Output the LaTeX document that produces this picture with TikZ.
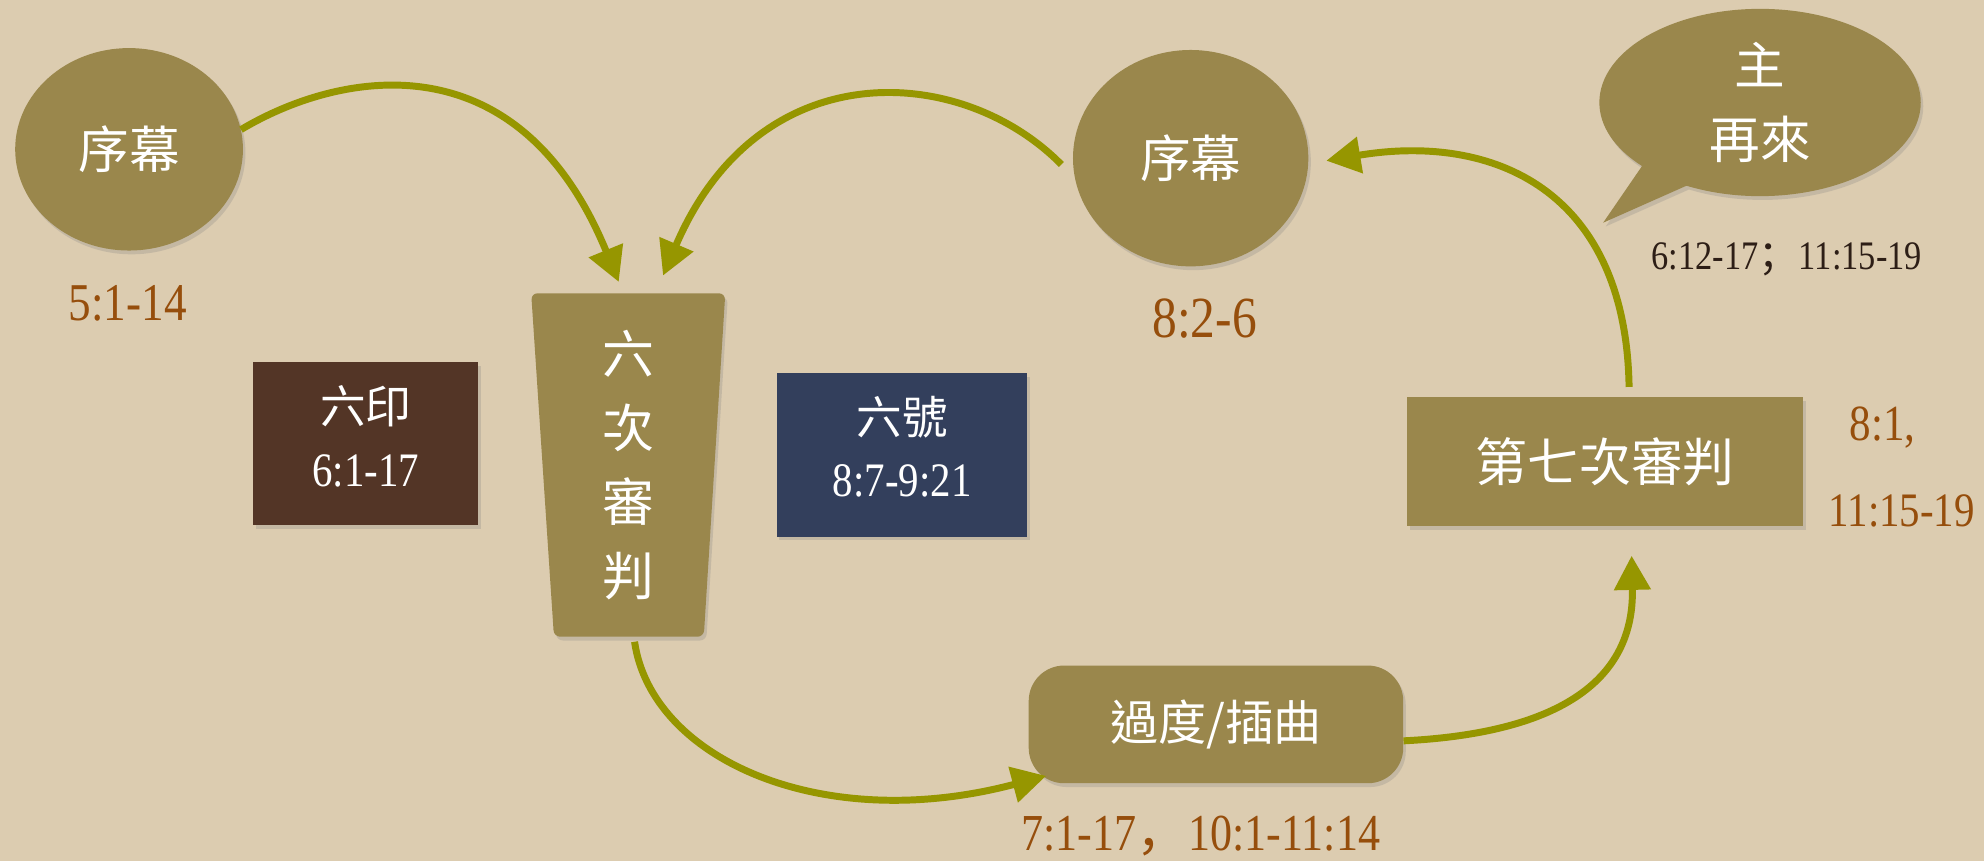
\documentclass[tikz,border=0pt]{standalone}
\usepackage{fontspec}
\setmainfont{Liberation Serif}
\newfontfamily\cjk{Noto Sans CJK TC}
\newfontfamily\cjkp{Noto Sans CJK SC}
\newfontfamily\numf[FakeStretch=0.85]{Liberation Serif}
\usetikzlibrary{arrows.meta,shapes.geometric,shapes.callouts,shadows}

\definecolor{bg}{RGB}{220,204,176}
\definecolor{olivefill}{RGB}{154,135,76}
\definecolor{arrowc}{RGB}{150,150,0}
\definecolor{sealbox}{RGB}{83,53,38}
\definecolor{trumpbox}{RGB}{51,63,92}
\definecolor{reftext}{RGB}{150,78,12}
\definecolor{darkref}{RGB}{45,30,22}

\begin{document}
\begin{tikzpicture}[x=1pt,y=-1pt,
  softshadow/.style={drop shadow={opacity=0.25,shadow xshift=2pt,shadow yshift=-3pt}},
  ovalnode/.style={ellipse, fill=olivefill, softshadow, text=white, inner sep=0pt,
    font=\cjk\fontsize{40}{48}\selectfont},
  cjkwhite/.style={text=white, inner sep=0pt, font=\cjk\fontsize{#1}{#1}\selectfont},
  versetext/.style={text=reftext, inner sep=0pt, font=\numf\fontsize{#1}{#1}\selectfont},
  numwhite/.style={text=white, inner sep=0pt, font=\numf\fontsize{#1}{#1}\selectfont},
  flowarrow/.style={draw=arrowc, line width=5.5pt, -{Triangle[length=27pt,width=28pt]}}
]
\fill[bg] (0,0) rectangle (1568,680.6);
\useasboundingbox (0,0) rectangle (1568,680.6);

% circles
\node[ovalnode, minimum width=180pt, minimum height=160pt] (A) at (102,118) {序幕};
\node[ovalnode, minimum width=186pt, minimum height=171pt] (B) at (941,125) {序幕};

% speech bubble
\coordinate (tail) at (1267,176);
\node[ellipse callout, callout absolute pointer={(tail)}, callout pointer arc=20,
  fill=olivefill, softshadow, minimum width=254pt, minimum height=148pt,
  text=white, align=center, inner sep=0pt, font=\cjk\fontsize{40}{59}\selectfont]
  (lord) at (1391,81) {主\\再來};

% trapezoid
\node[minimum width=153pt, minimum height=271pt, inner sep=0pt] (six) at (496.5,367.5) {};
\fill[olivefill, rounded corners=5pt, softshadow]
  (six.north west) -- (six.north east) -- ([xshift=-17pt]six.south east)
  -- ([xshift=18pt]six.south west) -- cycle;
\node[text=white, align=center, inner sep=0pt, font=\cjk\fontsize{41}{58.5}\selectfont]
  (sixtext) at (six) {六\\次\\審\\判};

% boxes
\node[fill=sealbox, softshadow, minimum width=178pt, minimum height=129pt, inner sep=0pt]
  (seal) at (289,350.5) {};
\node[cjkwhite=36] (sealA) at ([yshift=29.5pt]seal.center) {六印};
\node[numwhite=38] (sealB) at ([yshift=-21.5pt]seal.center) {6:1-17};

\node[fill=trumpbox, softshadow, minimum width=198pt, minimum height=129pt, inner sep=0pt]
  (trump) at (713,359.5) {};
\node[cjkwhite=36] (trumpA) at ([yshift=29.5pt]trump.center) {六號};
\node[numwhite=38] (trumpB) at ([yshift=-20.5pt]trump.center) {8:7-9:21};

\node[fill=olivefill, softshadow, minimum width=313pt, minimum height=102pt, inner sep=0pt,
  text=white, font=\cjk\fontsize{41}{41}\selectfont] (D) at (1268.5,365) {第七次審判};

\node[fill=olivefill, softshadow, rounded corners=28pt, minimum width=296pt, minimum height=93pt,
  inner sep=0pt, text=white, font=\cjk\fontsize{38}{38}\selectfont] (C) at (961,572.5) {過度/插曲};

% verse labels
\node[versetext=42] (vA) at (101,240) {5:1-14};
\node[versetext=46] (vB) at (952,252) {8:2-6};
\node[versetext=32, text=darkref] (vL) at (1412,205) {6:12-17{\cjkp ；}11:15-19};
\node[versetext=40] (vD1) at (1488,338) {8:1,};
\node[versetext=38] (vD2) at (1503,404) {11:15-19};
\node[versetext=41] (vC) at (949,661) {7:1-17{\cjkp ，}10:1-11:14};

% connectors
\draw[flowarrow] (A.10) .. controls (270,55) and (410,30) .. ([xshift=-7.5pt,yshift=9pt]six.north);
\draw[flowarrow] ([xshift=-9pt,yshift=-5pt]B.west) .. controls (760,50) and (600,40) .. ([xshift=27.5pt,yshift=14pt]six.north);
\draw[flowarrow] ([xshift=5pt,yshift=-4pt]six.south) .. controls (515,600) and (650,660) .. ([xshift=14pt,yshift=6pt]C.south west);
\draw[flowarrow] ([yshift=-13pt]C.east) .. controls (1220,580) and (1292,545) .. ([xshift=21pt,yshift=-23pt]D.south);
\draw[flowarrow] ([xshift=19pt,yshift=8pt]D.north) .. controls (1285,150) and (1180,105) .. ([xshift=14pt,yshift=-2pt]B.east);
\end{tikzpicture}
\end{document}
